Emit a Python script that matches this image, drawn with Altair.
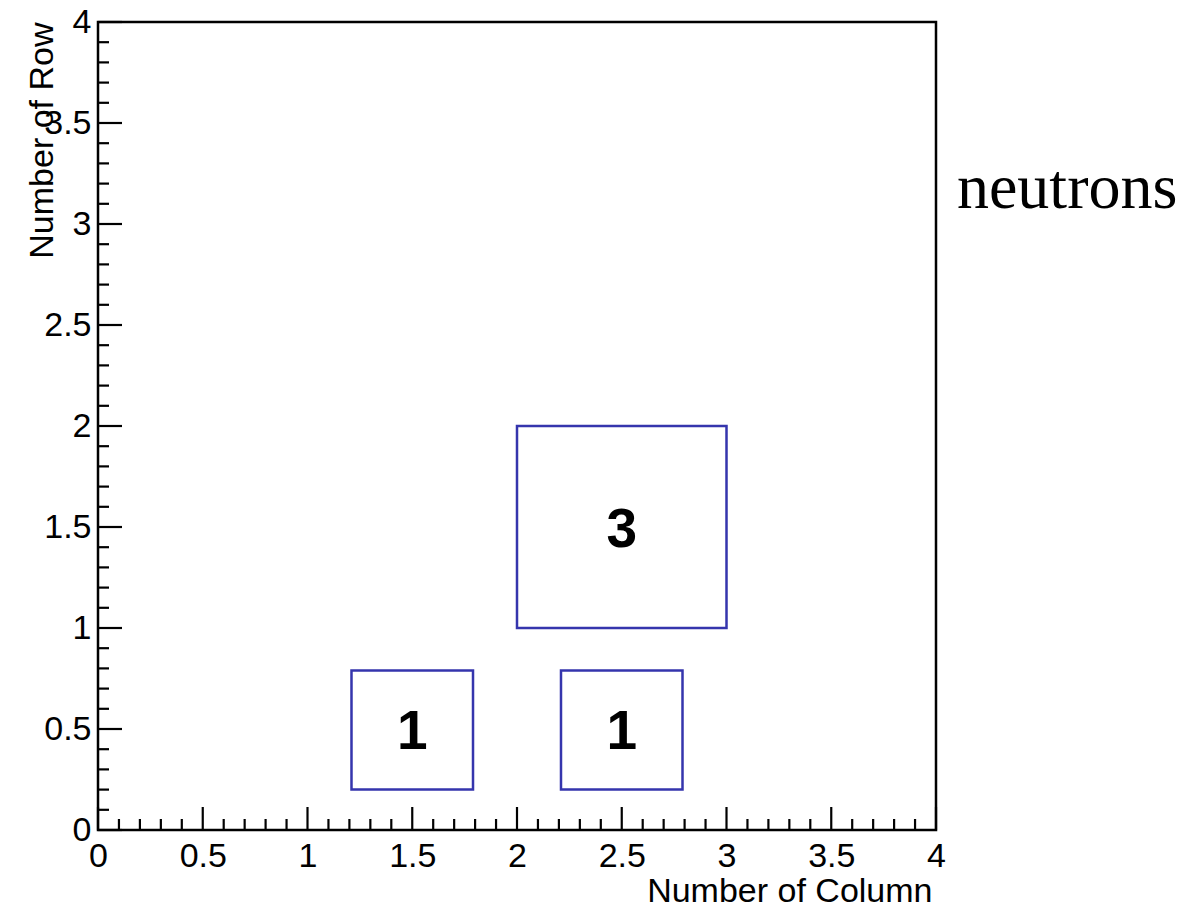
import altair as alt
import pandas as pd

# --- data ---
box_x0 = [1.21, 2.21, 2.0]
box_x1 = [1.79, 2.79, 3.0]
box_y0 = [0.20, 0.20, 1.0]
box_y1 = [0.79, 0.79, 2.0]
cell_x = [1.5, 2.5, 2.5]
cell_y = [0.5, 0.5, 1.5]
counts = ["1", "1", "3"]

major_ticks = [0, 0.5, 1, 1.5, 2, 2.5, 3, 3.5, 4]
minor_ticks = [round(i * 0.1, 1) for i in range(41) if i % 5 != 0]

note_text = ["neutrons"]
note_x = [4.1]
note_y = [3.08]

W, H = 838, 808
FONT = "Liberation Sans"
BLUE = "#3535ad"
FS = 34

boxes = pd.DataFrame({"x0": box_x0, "x1": box_x1, "y0": box_y0, "y1": box_y1})
labels = pd.DataFrame({"x": cell_x, "y": cell_y, "t": counts})
majors = pd.DataFrame({"v": major_ticks})
minors = pd.DataFrame({"v": minor_ticks})
note = pd.DataFrame({"x": note_x, "y": note_y, "t": note_text})

xscale = alt.Scale(domain=[0, 4], nice=False, zero=False)
yscale = alt.Scale(domain=[0, 4], nice=False, zero=False)

xaxis = alt.Axis(
    values=major_ticks, format="~g", ticks=False, tickSize=0, domain=False, grid=False,
    labelFont=FONT, labelFontSize=FS, labelColor="black", labelPadding=9,
    labelFlush=False, labelOverlap=False,
    title="Number of Column", titleFont=FONT, titleFontSize=FS, titleFontWeight="normal",
    titleColor="black", titleAlign="right", titleAnchor="end", titleX=W - 4, titleY=71,
    titleBaseline="alphabetic",
)
yaxis = alt.Axis(
    values=major_ticks, format="~g", ticks=False, tickSize=0, domain=False, grid=False,
    labelFont=FONT, labelFontSize=FS, labelColor="black", labelPadding=7,
    labelFlush=False, labelOverlap=False,
    title="Number of Row", titleFont=FONT, titleFontSize=FS, titleFontWeight="normal",
    titleColor="black", titleAngle=-90, titleAlign="right", titleAnchor="end",
    titleX=-46, titleY=0, titleBaseline="alphabetic",
)

rects = alt.Chart(boxes).mark_rect(
    fill=None, stroke=BLUE, strokeWidth=2.5
).encode(
    x=alt.X("x0:Q", scale=xscale, axis=xaxis),
    x2="x1:Q",
    y=alt.Y("y0:Q", scale=yscale, axis=yaxis),
    y2="y1:Q",
)

nums = alt.Chart(labels).mark_text(
    font=FONT, fontSize=55, fontWeight="bold", color="black", baseline="middle", align="center", dy=3
).encode(x="x:Q", y="y:Q", text="t:N")

xmaj = alt.Chart(majors).mark_rule(color="black", strokeWidth=2.2).encode(
    x="v:Q", y=alt.value(H), y2=alt.value(H - 23))
xmin = alt.Chart(minors).mark_rule(color="black", strokeWidth=2.2).encode(
    x="v:Q", y=alt.value(H), y2=alt.value(H - 11))
ymaj = alt.Chart(majors).mark_rule(color="black", strokeWidth=2.2).encode(
    y="v:Q", x=alt.value(0), x2=alt.value(24))
ymin = alt.Chart(minors).mark_rule(color="black", strokeWidth=2.2).encode(
    y="v:Q", x=alt.value(0), x2=alt.value(11))

neut = alt.Chart(note).mark_text(
    font="Liberation Serif", fontSize=64, color="black", align="left", baseline="alphabetic", clip=False
).encode(x="x:Q", y="y:Q", text="t:N")

chart = alt.layer(rects, xmaj, xmin, ymaj, ymin, nums, neut).properties(
    width=W, height=H,
    autosize=alt.AutoSizeParams(type="none"),
    padding={"left": 98, "top": 22, "right": 242, "bottom": 79},
    background="white",
).configure_view(stroke="black", strokeWidth=2.5)

chart.save("out.html", embed_options={"renderer": "svg", "actions": False})
